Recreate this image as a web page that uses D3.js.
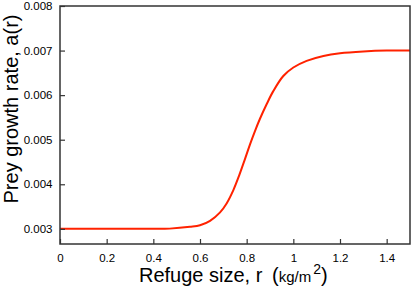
<!DOCTYPE html>
<html>
<head>
<meta charset="utf-8">
<script src="https://cdn.jsdelivr.net/npm/d3@7"></script>
<style>
  body { margin: 0; background: #fff; }
  text { font-family: "Liberation Sans", Arial, sans-serif; fill: #000; }
</style>
</head>
<body>
<div id="chart"></div>
<script>
// values
var refugeSize = [0, 0.2, 0.4, 0.47, 0.557, 0.6, 0.643, 0.686, 0.714, 0.743, 0.768, 0.793, 0.814, 0.836, 0.857, 0.886, 0.914, 0.957, 1.0, 1.057, 1.129, 1.2, 1.3, 1.4, 1.5];
var growthRate = [0.003, 0.003, 0.003, 0.003005, 0.003045, 0.00308, 0.00318, 0.00337, 0.00357, 0.00387, 0.0042, 0.00457, 0.00489, 0.0052, 0.00547, 0.0058, 0.00609, 0.00643, 0.00662, 0.00677, 0.00688, 0.00694, 0.00698, 0.007, 0.007];
var xTicks = [0, 0.2, 0.4, 0.6, 0.8, 1, 1.2, 1.4];
var yTicks = [0.003, 0.004, 0.005, 0.006, 0.007, 0.008];

var width = 415, height = 293;
var margin = {top: 6, right: 6, bottom: 49, left: 60};

var svg = d3.select("#chart").append("svg")
    .attr("width", width)
    .attr("height", height);

var x = d3.scaleLinear().domain([0, 1.5]).range([margin.left, width - margin.right + 1]);
var y = d3.scaleLinear().domain([0.00266, 0.008]).range([height - margin.bottom, margin.top]);

var points = refugeSize.map(function(r, i) { return [r, growthRate[i]]; });

// the curve
var line = d3.line()
    .x(function(d) { return x(d[0]); })
    .y(function(d) { return y(d[1]); })
    .curve(d3.curveCatmullRom.alpha(0.5));

svg.append("path")
    .datum(points)
    .attr("fill", "none")
    .attr("stroke", "#ff2200")
    .attr("stroke-width", 2)
    .attr("d", line);

// x axis, ticks pointing in
var xAxis = svg.append("g")
    .attr("transform", "translate(0," + y.range()[0] + ")")
    .call(d3.axisBottom(x).tickValues(xTicks).tickSizeInner(-5).tickSizeOuter(0).tickPadding(10)
      .tickFormat(function(d) { return d3.format("~g")(d); }));
xAxis.select(".domain").remove();
xAxis.selectAll("line").attr("stroke", "#333").attr("stroke-width", 1.2);
xAxis.selectAll("text").attr("font-size", "11.5px").attr("font-family", "Liberation Sans, Arial, sans-serif");

// y axis, ticks pointing in
var yAxis = svg.append("g")
    .attr("transform", "translate(" + x.range()[0] + ",0)")
    .call(d3.axisLeft(y).tickValues(yTicks).tickSizeInner(-5).tickSizeOuter(0).tickPadding(7.5)
      .tickFormat(d3.format(".3f")));
yAxis.select(".domain").remove();
yAxis.selectAll("line").attr("stroke", "#333").attr("stroke-width", 1.2);
yAxis.selectAll("text").attr("font-size", "11.5px").attr("font-family", "Liberation Sans, Arial, sans-serif");

// frame
svg.append("rect")
    .attr("x", x.range()[0])
    .attr("y", y.range()[1])
    .attr("width", x.range()[1] - x.range()[0])
    .attr("height", y.range()[0] - y.range()[1])
    .attr("fill", "none")
    .attr("stroke", "#333")
    .attr("stroke-width", 1.5);

// axis titles
var xTitle = svg.append("text")
    .attr("x", 139)
    .attr("y", 282);
xTitle.append("tspan").attr("font-size", "20px").text("Refuge size, r ");
xTitle.append("tspan").attr("font-size", "20px").attr("dx", 4).text("(");
xTitle.append("tspan").attr("font-size", "15px").text("kg/m");
xTitle.append("tspan").attr("font-size", "14px").attr("dx", 2).attr("dy", -8).text("2");
xTitle.append("tspan").attr("font-size", "20px").attr("dy", 8).text(")");

svg.append("text")
    .attr("transform", "translate(18,109) rotate(-90)")
    .attr("text-anchor", "middle")
    .attr("font-size", "20px")
    .text("Prey growth rate, a(r)");
</script>
</body>
</html>
